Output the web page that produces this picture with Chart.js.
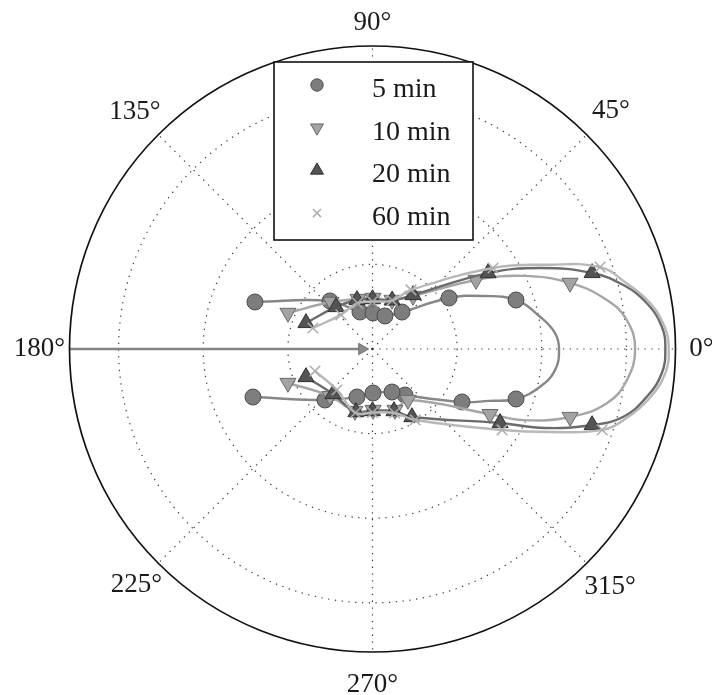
<!DOCTYPE html>
<html><head><meta charset="utf-8">
<script src="https://cdn.jsdelivr.net/npm/chart.js@4.4.1/dist/chart.umd.min.js"></script>
<style>html,body{margin:0;padding:0;background:#fff;}#wrap{width:712px;height:695px;}</style>
</head><body><div id="wrap"><canvas id="c" width="712" height="695"></canvas></div>
<script>
// ---- data (theta in degrees, r in ring units) ----
const seriesLabels = ['5 min', '10 min', '20 min', '60 min'];
const angleTicks = [0, 45, 90, 135, 180, 225, 270, 315];
const angleTickLabels = ['0°', '45°', '90°', '135°', '180°', '225°', '270°', '315°'];
const ringRadii = [1, 2, 3];
const rMax = 3.58;

const theta5 = [158.2, 131.5, 108.7, 89.2, 69.3, 51.4, 33.7, 25.6, 18.85, 10.9, 5.0, 0, -6.6, -12.7, -19.2, -24, -30.6, -54.8, -65.6, -89.3, -107.9, -133, -158.1];
const r5     = [1.496, 0.758, 0.462, 0.426, 0.417, 0.559, 1.087, 1.449, 1.792, 2.016, 2.165, 2.204, 2.171, 2.03, 1.796, 1.508, 1.229, 0.666, 0.558, 0.52, 0.596, 0.824, 1.522];
const marks5 = [0, 1, 2, 3, 4, 5, 6, 8, 14, 16, 17, 18, 19, 20, 21, 22];

const theta10 = [156.9, 131.4, 106.2, 89.4, 68.3, 52.6, 33.7, 25.9, 18.5, 11.8, 6.5, 0, -7.0, -13.05, -19.0, -25.3, -29.0, -55.2, -69.8, -89.5, -105.8, -132.1, -158.1];
const r10     = [1.086, 0.741, 0.615, 0.603, 0.623, 0.788, 1.470, 1.977, 2.461, 2.828, 3.024, 3.103, 3.027, 2.842, 2.469, 1.967, 1.587, 0.734, 0.768, 0.721, 0.761, 0.749, 1.077];
const marks10 = [0, 1, 2, 3, 4, 5, 6, 8, 14, 16, 17, 18, 19, 20, 21, 22];

const theta20 = [158.6, 131, 107.6, 90, 68, 53.1, 33.3, 25.8, 19.1, 14.3, 9.46, 4.4, 0, -4.8, -9.87, -15.1, -19.1, -24.6, -30.1, -59.9, -70.9, -90, -104.7, -131.3, -157.2];
const r20     = [0.844, 0.658, 0.607, 0.59, 0.62, 0.798, 1.634, 2.199, 2.746, 3.059, 3.286, 3.429, 3.46, 3.43, 3.29, 3.071, 2.746, 2.243, 1.742, 0.929, 0.776, 0.733, 0.770, 0.708, 0.853];
const marks20 = [0, 1, 2, 3, 4, 5, 6, 8, 16, 18, 19, 20, 21, 22, 23, 24];

const theta60 = [160.6, 132.8, 108, 90, 68, 56.9, 33.9, 26, 19.8, 14.5, 9.5, 4.4, 0, -4.8, -9.9, -15, -19.4, -25, -32, -59, -71, -90, -105, -130.9, -159];
const r60     = [0.746, 0.55, 0.57, 0.56, 0.62, 0.833, 1.716, 2.27, 2.858, 3.10, 3.32, 3.46, 3.50, 3.47, 3.33, 3.12, 2.877, 2.32, 1.805, 0.978, 0.80, 0.75, 0.78, 0.641, 0.728];
const marks60 = [0, 1, 2, 3, 4, 5, 6, 8, 16, 18, 19, 20, 21, 22, 23, 24];

// arrow along 180° (from the rim to the centre)
const arrowTheta = [180, 180];
const arrowR = [rMax, 0.124];

// ---- helpers ----
function toXY(th, rr) {
  return th.map((t, i) => ({ x: rr[i] * Math.cos(t * Math.PI / 180), y: rr[i] * Math.sin(t * Math.PI / 180) }));
}
const styles = [
  { line: '#878787', fill: '#7d7d7d', edge: '#4d4d4d', ps: 'circle', rot: 0, rad: 8, bw: 1 },
  { line: '#a6a6a6', fill: '#a3a3a3', edge: '#6a6a6a', ps: 'triangle', rot: 180, rad: 9.3, bw: 1 },
  { line: '#6b6b6b', fill: '#545454', edge: '#303030', ps: 'triangle', rot: 0, rad: 9.3, bw: 1 },
  { line: '#b8b8b8', fill: '#b3b3b3', edge: '#adadad', ps: 'crossRot', rot: 0, rad: 7.5, bw: 1.5 }
];
const thetas = [theta5, theta10, theta20, theta60];
const radii = [r5, r10, r20, r60];
const marks = [marks5, marks10, marks20, marks60];

const datasets = seriesLabels.map((lab, k) => {
  const s = styles[k];
  return {
    label: lab,
    data: toXY(thetas[k], radii[k]),
    showLine: true,
    tension: 0.42,
    borderColor: s.line,
    borderWidth: 2.4,
    pointStyle: s.ps,
    rotation: s.rot,
    pointRadius: (c) => marks[k].includes(c.dataIndex) ? s.rad : 0,
    pointHoverRadius: (c) => marks[k].includes(c.dataIndex) ? s.rad : 0,
    pointBackgroundColor: s.fill,
    pointBorderColor: s.edge,
    pointBorderWidth: s.bw,
    clip: false,
    order: 4 - k
  };
});
datasets.push({
  label: 'arrow',
  data: toXY(arrowTheta, arrowR),
  showLine: true,
  borderColor: '#858585',
  borderWidth: 2.5,
  pointStyle: 'triangle',
  rotation: 90,
  pointRadius: [0, 6.5],
  pointBackgroundColor: '#8a8a8a',
  pointBorderColor: '#707070',
  pointBorderWidth: 1,
  clip: false,
  order: 10
});

const labelPad = { 0: 26, 45: 34, 90: 23, 135: 33, 180: 30, 225: 31, 270: 33, 315: 33 };

const polarPlugin = {
  id: 'polarGrid',
  beforeDatasetsDraw(chart) {
    const { ctx, scales: { x, y } } = chart;
    const cx = x.getPixelForValue(0), cy = y.getPixelForValue(0);
    const unit = x.getPixelForValue(1) - cx;
    ctx.save();
    ctx.strokeStyle = '#3a3a3a';
    ctx.lineWidth = 1.2;
    ctx.setLineDash([1.3, 5.5]);
    ringRadii.forEach(r => {
      ctx.beginPath(); ctx.arc(cx, cy, r * unit, 0, Math.PI * 2); ctx.stroke();
    });
    angleTicks.forEach(a => {
      const t = a * Math.PI / 180;
      ctx.beginPath();
      ctx.moveTo(cx, cy);
      ctx.lineTo(x.getPixelForValue(rMax * Math.cos(t)), y.getPixelForValue(rMax * Math.sin(t)));
      ctx.stroke();
    });
    ctx.restore();
  },
  afterDatasetsDraw(chart) {
    const { ctx, scales: { x, y } } = chart;
    const cx = x.getPixelForValue(0), cy = y.getPixelForValue(0);
    const unit = x.getPixelForValue(1) - cx;
    const R = rMax * unit;
    ctx.save();
    ctx.strokeStyle = '#111';
    ctx.lineWidth = 1.7;
    ctx.beginPath(); ctx.arc(cx, cy, R, 0, Math.PI * 2); ctx.stroke();
    ctx.fillStyle = '#1a1a1a';
    ctx.font = '27px "Liberation Serif", "Times New Roman", serif';
    ctx.textAlign = 'center';
    ctx.textBaseline = 'middle';
    angleTicks.forEach((a, i) => {
      const t = a * Math.PI / 180;
      const d = R + labelPad[a];
      ctx.fillText(angleTickLabels[i], cx + d * Math.cos(t), cy - d * Math.sin(t));
    });
    // legend box
    const bx = 274, by = 62, bw = 199, bh = 178;
    ctx.fillStyle = '#fff';
    ctx.fillRect(bx, by, bw, bh);
    ctx.strokeStyle = '#111';
    ctx.lineWidth = 1.6;
    ctx.strokeRect(bx, by, bw, bh);
    ctx.font = '28px "Liberation Serif", "Times New Roman", serif';
    ctx.textAlign = 'left';
    ctx.textBaseline = 'alphabetic';
    seriesLabels.forEach((lab, k) => {
      const s = styles[k];
      const my = 85 + k * 42.7;
      ctx.fillStyle = s.fill;
      ctx.strokeStyle = s.edge;
      ctx.lineWidth = s.bw;
      Chart.helpers.drawPoint(ctx, { pointStyle: s.ps, radius: s.rad - 1.8, rotation: s.rot, borderWidth: s.bw }, 317, my);
      ctx.fillStyle = '#1a1a1a';
      ctx.fillText(lab, 372, my + 12);
    });
    ctx.restore();
  }
};

new Chart(document.getElementById('c'), {
  type: 'scatter',
  data: { datasets },
  options: {
    responsive: false,
    animation: false,
    layout: { padding: { left: 69.5, right: 36.5, top: 46, bottom: 43 } },
    plugins: { legend: { display: false }, tooltip: { enabled: false } },
    scales: {
      x: { type: 'linear', min: -rMax, max: rMax, display: false },
      y: { type: 'linear', min: -rMax, max: rMax, display: false }
    }
  },
  plugins: [polarPlugin]
});
</script>
</body></html>
